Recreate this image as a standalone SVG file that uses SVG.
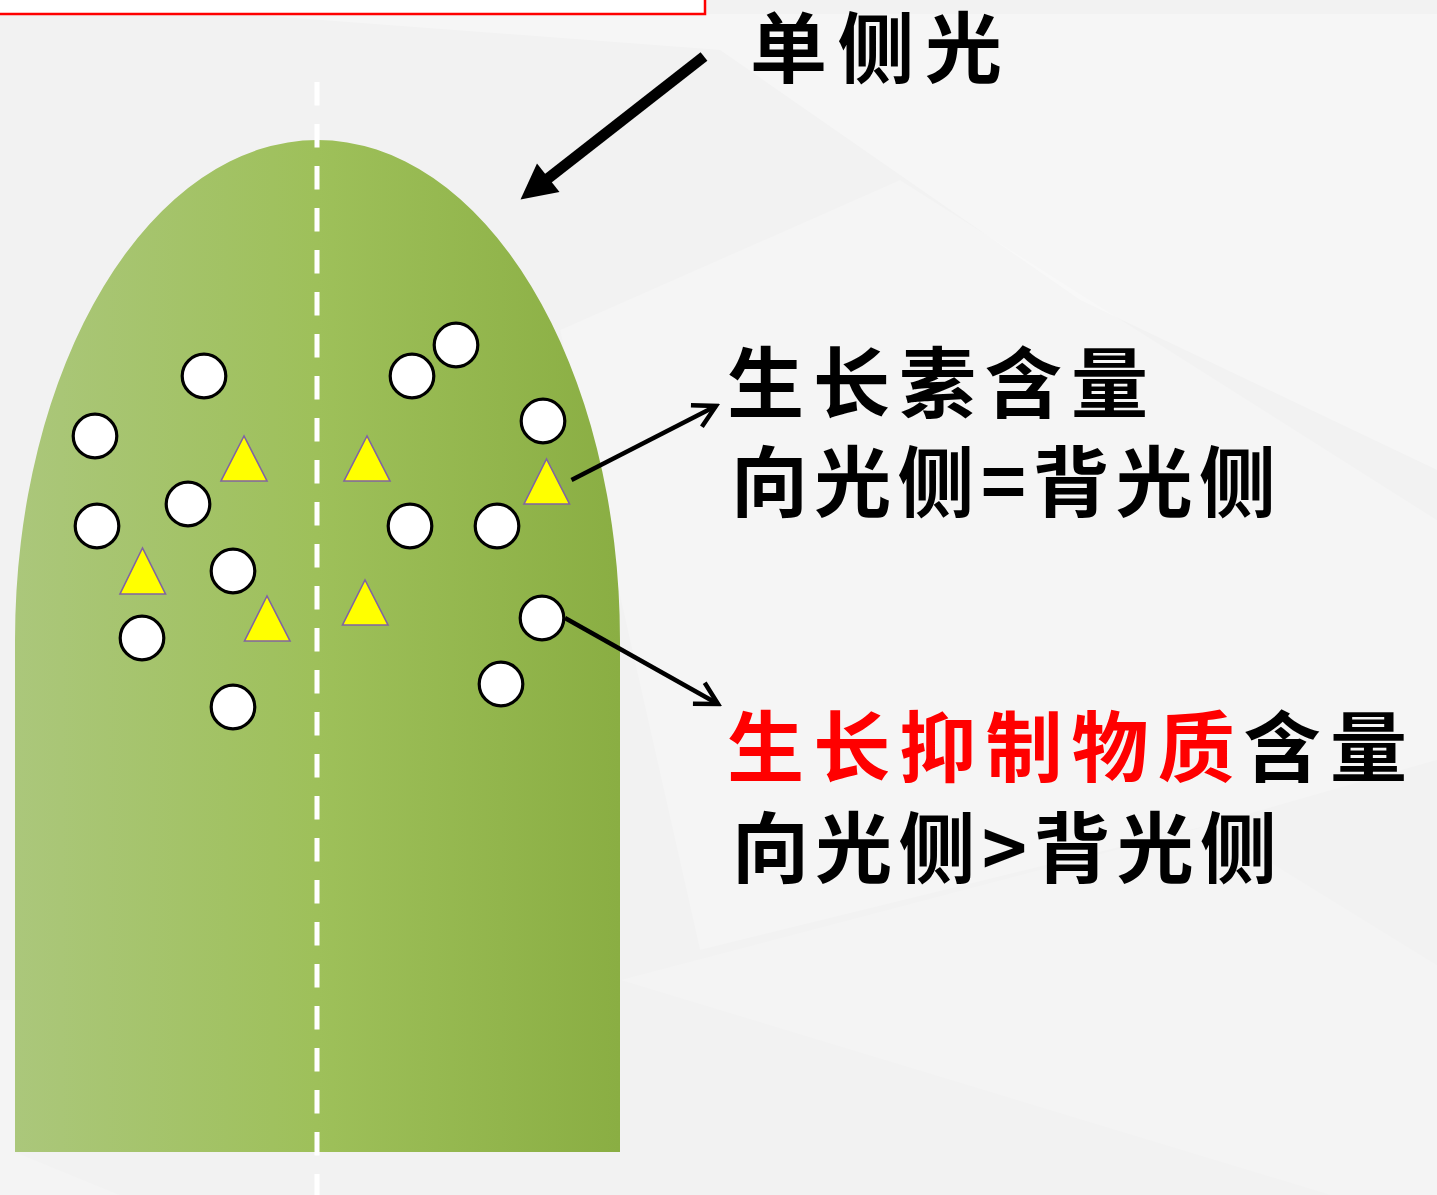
<svg xmlns="http://www.w3.org/2000/svg" width="1437" height="1195" viewBox="0 0 1437 1195">
  <defs>
    <linearGradient id="stemFill" x1="15" y1="0" x2="620" y2="0" gradientUnits="userSpaceOnUse">
      <stop offset="0" stop-color="#abc77b"/>
      <stop offset="0.5" stop-color="#9ec05a"/>
      <stop offset="1" stop-color="#8aae43"/>
    </linearGradient>
    <marker id="chevron" viewBox="-30 -16 34 32" markerUnits="userSpaceOnUse" markerWidth="34" markerHeight="32" refX="0" refY="0" orient="auto">
      <path d="M -22 -12 L 0 0 L -22 12" fill="none" stroke="#000" stroke-width="4.5" stroke-linejoin="miter"/>
    </marker>
    <style>
      .cell { fill: #fff; stroke: #000; stroke-width: 3.2; }
      .tri { fill: #ffff00; stroke: #8064a2; stroke-width: 1.6; }
      .label { font-family: "Noto Sans CJK SC", "Noto Sans CJK JP", sans-serif; font-size: 77px; font-weight: 700; fill: #000; }
      .red { fill: #ff0000; }
      .pointer { fill: none; stroke: #000; stroke-width: 4.5; }
    </style>
  </defs>

  <!-- background with faint facets -->
  <rect x="0" y="0" width="1437" height="1195" fill="#f2f2f2"/>
  <polygon points="240,14 1437,14 1437,470 1080,300 720,50" fill="#fff" opacity="0.3"/>
  <polygon points="560,330 900,180 1437,520 1437,760 1210,825 700,950" fill="#fff" opacity="0.22"/>
  <polygon points="620,980 1210,825 1437,965 1437,1195 1330,1195" fill="#fff" opacity="0.15"/>
  <polygon points="0,1000 15,1000 15,1152 120,1195 0,1195" fill="#fff" opacity="0.15"/>

  <!-- title frame at the top -->
  <rect x="-4" y="-10" width="709" height="24" fill="#fff" stroke="#ff0000" stroke-width="2.5"/>

  <!-- shoot tip -->
  <g id="shoot">
    <path d="M 15 1152 L 15 640 A 302.5 500 0 0 1 620 640 L 620 1152 Z" fill="url(#stemFill)"/>
  </g>
  <g id="midline">
    <line x1="317" y1="82" x2="317" y2="1195" stroke="#fff" stroke-width="5" stroke-dasharray="23.5 18.5"/>
  </g>

  <!-- inhibitor particles -->
  <g id="inhibitors">
    <circle class="cell" cx="204" cy="376" r="21.8"/>
    <circle class="cell" cx="95" cy="436" r="21.8"/>
    <circle class="cell" cx="97" cy="526" r="21.8"/>
    <circle class="cell" cx="188" cy="504" r="21.8"/>
    <circle class="cell" cx="233" cy="571" r="21.8"/>
    <circle class="cell" cx="142" cy="638" r="21.8"/>
    <circle class="cell" cx="233" cy="707" r="21.8"/>
    <circle class="cell" cx="412" cy="376" r="21.8"/>
    <circle class="cell" cx="456" cy="345" r="21.8"/>
    <circle class="cell" cx="543" cy="421" r="21.8"/>
    <circle class="cell" cx="410" cy="526" r="21.8"/>
    <circle class="cell" cx="497" cy="526" r="21.8"/>
    <circle class="cell" cx="542" cy="618" r="21.8"/>
    <circle class="cell" cx="501" cy="684" r="21.8"/>
  </g>

  <!-- auxin particles -->
  <g id="auxins">
    <polygon class="tri" points="244,436 221,481 267,481"/>
    <polygon class="tri" points="367,436 344,481 390,481"/>
    <polygon class="tri" points="546.5,459 524,504 569.5,504"/>
    <polygon class="tri" points="142.5,548 120,594 165.5,594"/>
    <polygon class="tri" points="267,596 244.5,641 290,641"/>
    <polygon class="tri" points="365,580 342.5,625 388,625"/>
  </g>

  <!-- connectors -->
  <g id="connectors">
    <line x1="704" y1="56.5" x2="546" y2="180" stroke="#000" stroke-width="11"/>
    <polygon points="520.5,199.5 537,163.5 559.5,192" fill="#000"/>
    <line class="pointer" x1="571.5" y1="480" x2="716" y2="406" marker-end="url(#chevron)"/>
    <line class="pointer" x1="565" y1="618" x2="718" y2="704" marker-end="url(#chevron)"/>
  </g>

  <!-- labels -->
  <g id="label-light">
    <text class="label" x="750" y="77" textLength="252" lengthAdjust="spacing">单侧光</text>
  </g>
  <g id="label-auxin">
    <text class="label" x="727" y="412" textLength="421" lengthAdjust="spacing">生长素含量</text>
    <text class="label" x="731" y="511" textLength="545" lengthAdjust="spacing">向光侧=背光侧</text>
  </g>
  <g id="label-inhibitor">
    <text class="label" x="727" y="776" textLength="680" lengthAdjust="spacing"><tspan class="red">生长抑制物质</tspan>含量</text>
    <text class="label" x="732" y="877" textLength="545" lengthAdjust="spacing">向光侧&gt;背光侧</text>
  </g>
</svg>
